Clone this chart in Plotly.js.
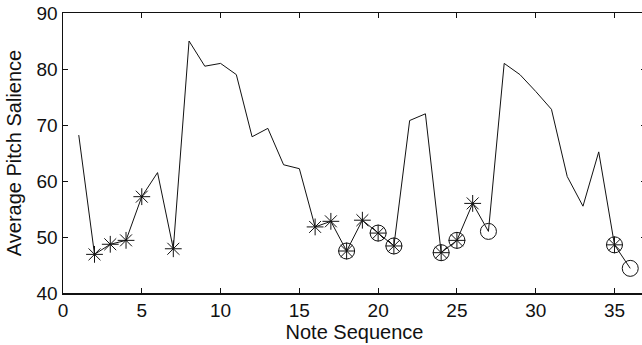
<!DOCTYPE html>
<html>
<head>
<meta charset="utf-8">
<script src="https://cdn.plot.ly/plotly-3.0.1.min.js"></script>
<style>
html, body { margin: 0; padding: 0; overflow: hidden; background: #fff; }
#chart { width: 646px; height: 345px; }
</style>
</head>
<body>
<div id="chart"></div>
<script>
// Data
const notes = [1,2,3,4,5,6,7,8,9,10,11,12,13,14,15,16,17,18,19,20,21,22,23,24,25,26,27,28,29,30,31,32,33,34,35,36];
const salience = [68.2, 46.9, 48.7, 49.4, 57.2, 61.5, 47.9, 85.0, 80.5, 81.0, 79.0, 67.9,
                  69.4, 62.9, 62.2, 51.8, 52.8, 47.5, 53.0, 50.7, 48.4, 70.8, 72.0, 47.2,
                  49.4, 56.0, 51.0, 81.0, 79.0, 76.0, 72.8, 60.8, 55.5, 65.2, 48.6, 44.4];
const starNotes = [2,3,4,5,7,16,17,18,19,20,21,24,25,26,35];
const circleNotes = [18,20,21,24,25,27,35,36];
const xTicks = [0,5,10,15,20,25,30,35];
const yTicks = [40,50,60,70,80,90];

const lookup = n => salience[notes.indexOf(n)];

const font = { family: 'Liberation Sans, Arial, Helvetica, sans-serif', size: 19, color: '#111' };
const titleFont = { family: 'Liberation Sans, Arial, Helvetica, sans-serif', size: 20, color: '#111' };

const traces = [
  { x: notes, y: salience, type: 'scatter', mode: 'lines',
    line: { color: '#111', width: 1 }, hoverinfo: 'skip' },
  { x: starNotes, y: starNotes.map(lookup), type: 'scatter', mode: 'markers',
    marker: { symbol: 'asterisk-open', size: 14, color: '#111', line: { color: '#111', width: 1 } } },
  { x: circleNotes, y: circleNotes.map(lookup), type: 'scatter', mode: 'markers',
    marker: { symbol: 'circle-open', size: 16, color: '#111', line: { color: '#111', width: 1 } } }
];

const axisCommon = {
  showgrid: false, zeroline: false, showline: true, linecolor: '#111', linewidth: 1.5,
  mirror: 'ticks', ticks: 'inside', ticklen: 5, tickwidth: 1, tickcolor: '#111',
  tickfont: font, automargin: false
};

const layout = {
  width: 646, height: 345,
  margin: { l: 63, r: 0, t: 13, b: 52 },
  paper_bgcolor: '#fff', plot_bgcolor: '#fff',
  showlegend: false,
  font: font,
  xaxis: Object.assign({}, axisCommon, {
    range: [0, 37], tickvals: xTicks, ticktext: xTicks.map(String),
    title: { text: 'Note Sequence', font: titleFont, standoff: 2 }
  }),
  yaxis: Object.assign({}, axisCommon, {
    range: [40, 90], tickvals: yTicks, ticktext: yTicks.map(String),
    title: { text: 'Average Pitch Salience', font: titleFont, standoff: 9 }
  })
};

Plotly.newPlot('chart', traces, layout, { staticPlot: true, displayModeBar: false });
</script>
</body>
</html>
